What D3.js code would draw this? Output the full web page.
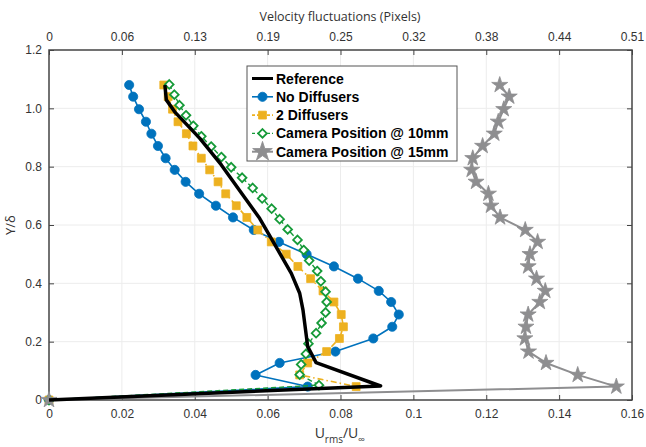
<!DOCTYPE html>
<html>
<head>
<meta charset="utf-8">
<script src="https://cdn.jsdelivr.net/npm/d3@7"></script>
<style>
  body { margin: 0; background: #fff; }
  svg { display: block; font-family: "Open Sans", sans-serif; }
  .tick text { font-size: 12px; fill: #333; }
  .axis line { stroke: #444; }
  .grid line { stroke: #ececec; stroke-width: 1; }
</style>
</head>
<body>
<svg width="646" height="447"></svg>
<script>
// values
const xTicks = [0, 0.02, 0.04, 0.06, 0.08, 0.1, 0.12, 0.14, 0.16]
const xTickLabels = ["0", "0.02", "0.04", "0.06", "0.08", "0.1", "0.12", "0.14", "0.16"]
const topTickLabels = ["0", "0.06", "0.13", "0.19", "0.25", "0.32", "0.38", "0.44", "0.51"]
const yTicks = [0, 0.2, 0.4, 0.6, 0.8, 1.0, 1.2]
const yTickLabels = ["0", "0.2", "0.4", "0.6", "0.8", "1.0", "1.2"]

// shared Y/delta stations for No Diffusers, 2 Diffusers, Camera @ 15mm
const stationY = [1.080, 1.040, 0.997, 0.954, 0.913, 0.871, 0.829, 0.789, 0.748, 0.707, 0.666, 0.626, 0.583,
  0.542, 0.500, 0.458, 0.416, 0.374, 0.336, 0.293, 0.251, 0.211, 0.166, 0.127, 0.086, 0.046, 0]

const noDiffusers = [0.0220, 0.0231, 0.0247, 0.0266, 0.0281, 0.0299, 0.0320, 0.0345, 0.0375, 0.0412, 0.0458, 0.0505, 0.0562,
  0.0631, 0.0707, 0.0782, 0.0848, 0.0905, 0.0939, 0.0960, 0.0942, 0.0890, 0.0786, 0.0633, 0.0567, 0.0710, 0]

const twoDiffusers = [0.0315, 0.0327, 0.0339, 0.0354, 0.0377, 0.0395, 0.0418, 0.0441, 0.0464, 0.0485, 0.0514, 0.0543, 0.0573,
  0.0610, 0.0651, 0.0683, 0.0718, 0.0752, 0.0782, 0.0802, 0.0808, 0.0797, 0.0762, 0.0710, 0.0688, 0.0843, 0]

const camera15 = [0.1237, 0.1263, 0.1248, 0.1233, 0.1222, 0.1190, 0.1163, 0.1160, 0.1172, 0.1206, 0.1213, 0.1238, 0.1307,
  0.1341, 0.1320, 0.1315, 0.1338, 0.1362, 0.1347, 0.1315, 0.1309, 0.1306, 0.1316, 0.1364, 0.1451, 0.1557, 0]

const camera10Y = [1.082, 1.047, 1.011, 0.976, 0.940, 0.904, 0.869, 0.833, 0.798, 0.762, 0.727, 0.691, 0.656, 0.620, 0.585,
  0.549, 0.514, 0.478, 0.442, 0.407, 0.371, 0.336, 0.300, 0.264, 0.229, 0.193, 0.158, 0.122, 0.087, 0.051, 0]
const camera10 = [0.0330, 0.0344, 0.0358, 0.0376, 0.0396, 0.0418, 0.0445, 0.0473, 0.0500, 0.0530, 0.0559, 0.0585, 0.0611, 0.0633, 0.0655,
  0.0682, 0.0699, 0.0714, 0.0736, 0.0746, 0.0759, 0.0762, 0.0759, 0.0748, 0.0733, 0.0712, 0.0705, 0.0692, 0.0688, 0.0741, 0]

const referenceY = [1.080, 1.029, 0.988, 0.897, 0.806, 0.703, 0.623, 0.543, 0.434, 0.366, 0.309, 0.183, 0.128, 0.048, 0]
const reference = [0.0318, 0.0322, 0.0345, 0.0414, 0.0473, 0.0532, 0.0578, 0.0615, 0.0665, 0.0688, 0.0697, 0.0710, 0.0733, 0.0910, 0]

const svg = d3.select("svg")

const x = d3.scaleLinear().domain([0, 0.16]).range([49, 632])
const y = d3.scaleLinear().domain([0, 1.2]).range([400, 50])

// grid
svg.append("g").attr("class", "grid")
  .selectAll("line.v").data(xTicks.slice(1, -1)).enter().append("line")
  .attr("x1", d => x(d)).attr("x2", d => x(d)).attr("y1", 50).attr("y2", 400)
svg.select("g.grid")
  .selectAll("line.h").data(yTicks.slice(1, -1)).enter().append("line")
  .attr("x1", 49).attr("x2", 632).attr("y1", d => y(d)).attr("y2", d => y(d))

// axes, ticks pointing inward
const bottomAxis = svg.append("g").attr("class", "axis").attr("transform", "translate(0,400)")
  .call(d3.axisBottom(x).tickValues(xTicks).tickSizeInner(-5).tickSizeOuter(0).tickPadding(9)
    .tickFormat((d, i) => xTickLabels[i]))
const topAxis = svg.append("g").attr("class", "axis").attr("transform", "translate(0,50)")
  .call(d3.axisTop(x).tickValues(xTicks).tickSizeInner(-5).tickSizeOuter(0).tickPadding(9)
    .tickFormat((d, i) => topTickLabels[i]))
const leftAxis = svg.append("g").attr("class", "axis").attr("transform", "translate(49,0)")
  .call(d3.axisLeft(y).tickValues(yTicks).tickSizeInner(-5).tickSizeOuter(0).tickPadding(7)
    .tickFormat((d, i) => yTickLabels[i]))
const rightAxis = svg.append("g").attr("class", "axis").attr("transform", "translate(632,0)")
  .call(d3.axisLeft(y).tickValues(yTicks).tickSizeInner(5).tickSizeOuter(0).tickFormat(""))

svg.selectAll(".axis path.domain").remove()

svg.append("rect")
  .attr("x", 49).attr("y", 50).attr("width", 583).attr("height", 350)
  .attr("fill", "none").attr("stroke", "#444").attr("stroke-width", 1.5)

// axis titles
svg.append("text")
  .attr("x", 340).attr("y", 21).attr("text-anchor", "middle")
  .style("font-size", "12.5px").style("fill", "#333")
  .text("Velocity fluctuations (Pixels)")

svg.append("text")
  .attr("transform", "translate(15,225) rotate(-90)").attr("text-anchor", "middle")
  .style("font-size", "13px").style("fill", "#333")
  .text("Y/δ")

const xLabel = svg.append("text")
  .attr("x", 340).attr("y", 438).attr("text-anchor", "middle")
  .style("font-size", "14px").style("fill", "#333")
xLabel.append("tspan").text("U")
xLabel.append("tspan").attr("dy", 5).style("font-size", "10px").text("rms")
xLabel.append("tspan").attr("dy", -5).text("/U")
xLabel.append("tspan").attr("dy", 5).style("font-size", "10px").text("∞")

// markers
const diamond = {
  draw(ctx, size) {
    const r = Math.sqrt(size / 2)
    ctx.moveTo(0, -r); ctx.lineTo(r, 0); ctx.lineTo(0, r); ctx.lineTo(-r, 0); ctx.closePath()
  }
}

const series = [
  { name: "No Diffusers", xs: noDiffusers, ys: stationY, color: "#0072bd", width: 1.6, dash: null,
    symbol: d3.symbolCircle, size: 66, fill: "#0072bd" },
  { name: "2 Diffusers", xs: twoDiffusers, ys: stationY, color: "#edb120", width: 1.6, dash: "6,3,1.5,3",
    symbol: d3.symbolSquare, size: 62, fill: "#edb120" },
  { name: "Camera Position @ 10mm", xs: camera10, ys: camera10Y, color: "#159a38", width: 1.4, dash: "5,3",
    symbol: diamond, size: 38, fill: "#fff" },
  { name: "Camera Position @ 15mm", xs: camera15, ys: stationY, color: "#8e8e90", width: 2, dash: null,
    symbol: d3.symbolStar, size: 80, fill: "#8e8e90" },
  { name: "Reference", xs: reference, ys: referenceY, color: "#000", width: 3.5, dash: null,
    symbol: null }
]

const line = d3.line().x(d => x(d[0])).y(d => y(d[1]))

const groups = svg.selectAll("g.series")
  .data(series)
  .enter()
  .append("g")
  .attr("class", "series")

groups.append("path")
  .attr("d", d => line(d.xs.map((v, i) => [v, d.ys[i]])))
  .attr("fill", "none")
  .attr("stroke", d => d.color)
  .attr("stroke-width", d => d.width)
  .attr("stroke-dasharray", d => d.dash)
  .attr("stroke-linejoin", "round")

groups.filter(d => d.symbol)
  .selectAll("path.mark")
  .data(d => d.xs.map((v, i) => ({ x: v, y: d.ys[i], s: d })))
  .enter()
  .append("path")
  .attr("class", "mark")
  .attr("transform", d => `translate(${x(d.x)},${y(d.y)})`)
  .attr("d", d => d3.symbol().type(d.s.symbol).size(d.s.size)())
  .attr("fill", d => d.s.fill)
  .attr("stroke", d => d.s.color)
  .attr("stroke-width", d => d.s.symbol === diamond ? 1.8 : 0.8)

// legend
const legendOrder = [4, 0, 1, 2, 3]
const legend = svg.append("g").attr("transform", "translate(247,66)")
legend.append("rect")
  .attr("width", 210).attr("height", 95)
  .attr("fill", "#fff").attr("stroke", "#555").attr("stroke-width", 1)

const items = legend.selectAll("g.item")
  .data(legendOrder.map(i => series[i]))
  .enter()
  .append("g")
  .attr("class", "item")
  .attr("transform", (d, i) => `translate(0,${12.5 + i * 18.3})`)

items.append("line")
  .attr("x1", 5).attr("x2", 26).attr("y1", 0).attr("y2", 0)
  .attr("stroke", d => d.color)
  .attr("stroke-width", d => d.name === "Reference" ? 3 : d.width)
  .attr("stroke-dasharray", d => d.dash ? "3,2" : null)

items.filter(d => d.symbol).append("path")
  .attr("transform", "translate(15.5,0)")
  .attr("d", d => d3.symbol().type(d.symbol).size(d.symbol === d3.symbolStar ? 120 : d.size)())
  .attr("fill", d => d.fill)
  .attr("stroke", d => d.color)
  .attr("stroke-width", d => d.symbol === diamond ? 1.8 : 0.8)

items.append("text")
  .attr("x", 29).attr("y", 5)
  .style("font-family", "'Liberation Sans', Arial, sans-serif")
  .style("font-weight", "bold").style("font-size", "14px")
  .text(d => d.name)
</script>
</body>
</html>
